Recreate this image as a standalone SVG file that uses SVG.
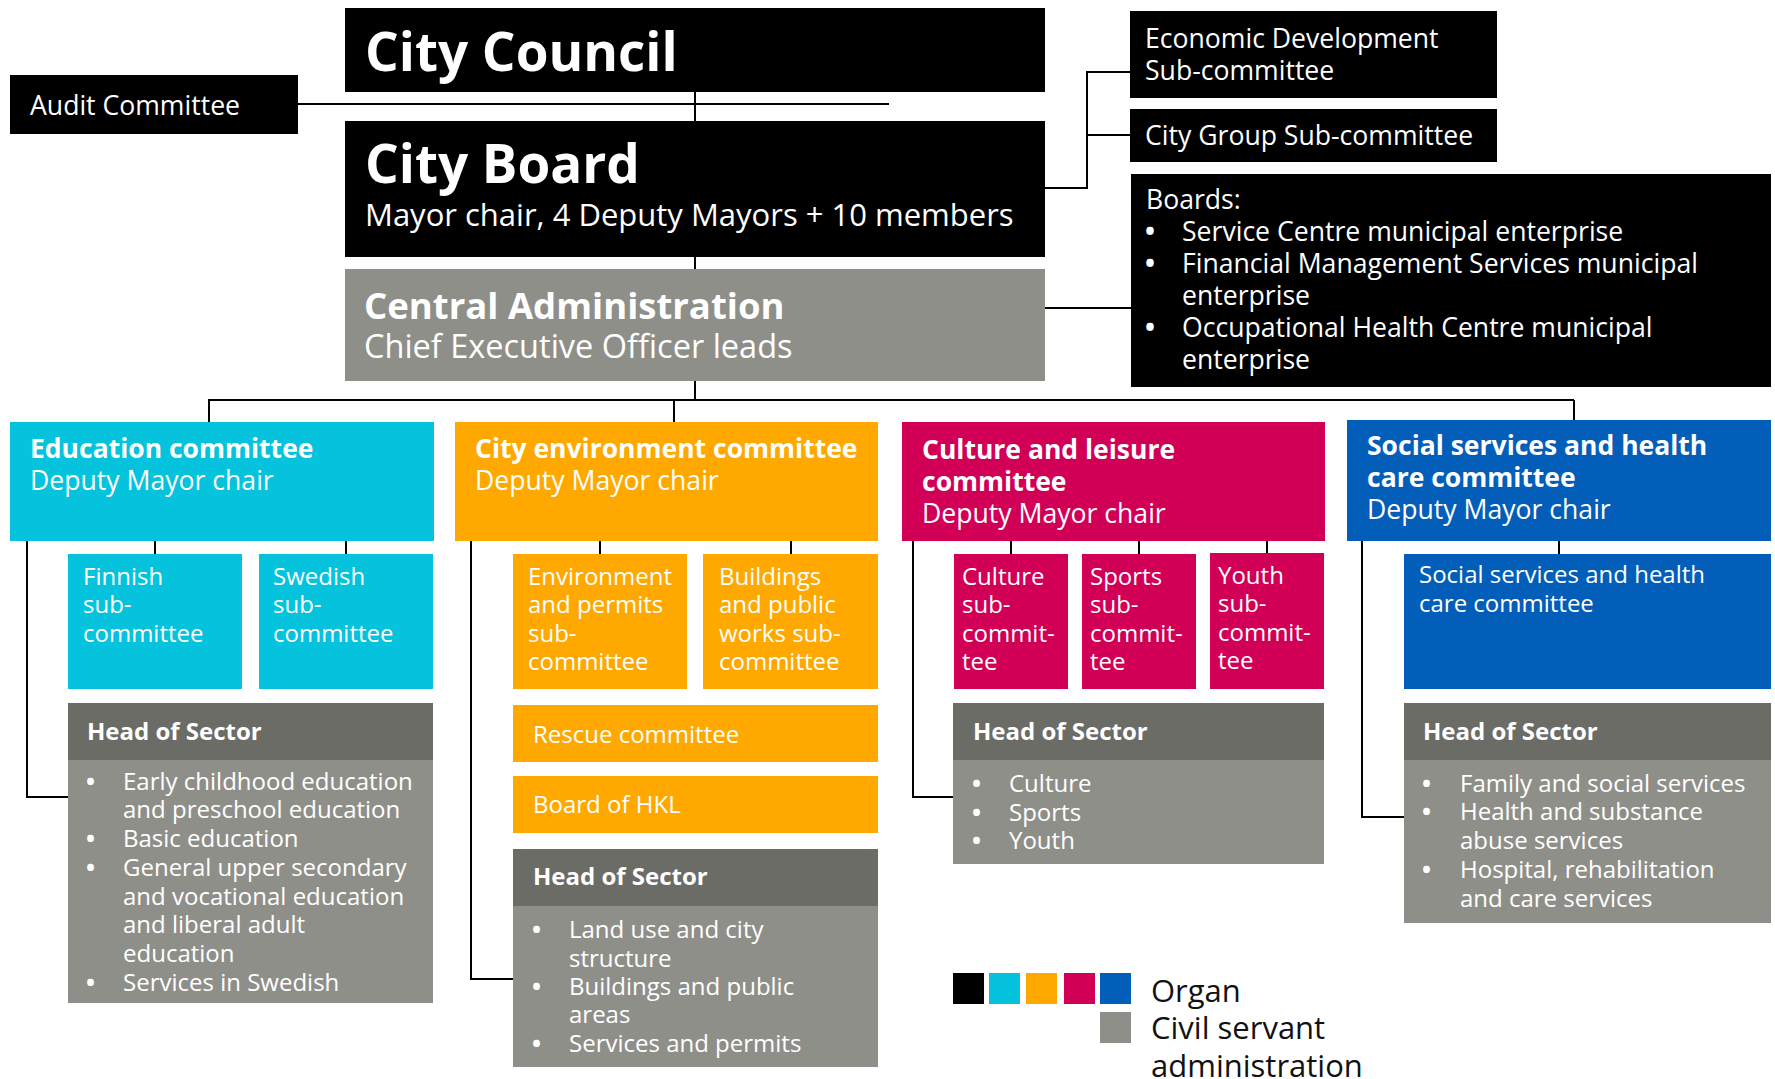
<svg xmlns="http://www.w3.org/2000/svg" width="1775" height="1079" viewBox="0 0 1775 1079">
<style>
text{font-family:"Open Sans","Liberation Sans",sans-serif;fill:#fff}
.b{font-weight:700}
.t26{font-size:26.6px}
.ti{font-size:26.5px;font-weight:700}
.t24{font-size:24px}
.bu{font-weight:700}
.blk{fill:#000}
.cy{fill:#05C2DD}
.or{fill:#FFA900}
.mg{fill:#D10056}
.bl{fill:#025EB8}
.gr{fill:#8F8F8A}
.dg{fill:#6C6C67}
.ln{stroke:#000;stroke-width:2;fill:none}
.lg{fill:#111;font-size:31px}
</style>
<rect width="1775" height="1079" fill="#fff"/>
<g id="connectors" class="ln">
<path d="M298 104H889"/>
<path d="M695 92V121"/>
<path d="M695 257V269"/>
<path d="M695 381V400"/>
<path d="M1045 188H1087V72H1130M1087 135H1130"/>
<path d="M1045 308H1131"/>
<path d="M208 400H1574"/>
<path d="M209 400V422"/>
<path d="M674 400V422"/>
<path d="M1574 400V420"/>
<path d="M155 541V554M346 541V554"/>
<path d="M600 541V554M791 541V554"/>
<path d="M1011 541V554M1139 541V554M1267 541V553"/>
<path d="M1559 541V554"/>
<path d="M27 541V797H68"/>
<path d="M471 541V979H513"/>
<path d="M913 541V797H953"/>
<path d="M1362 541V817H1404"/>
</g>
<g id="city-council">
<rect class="blk" x="345" y="8" width="700" height="84"/>
<text class="b" x="365" y="71" font-size="53">City Council</text>
</g>
<g id="audit-committee">
<rect class="blk" x="10" y="75" width="288" height="59"/>
<text class="t26" x="30" y="115">Audit Committee</text>
</g>
<g id="city-board">
<rect class="blk" x="345" y="121" width="700" height="136"/>
<text class="b" x="365" y="183" font-size="53">City Board</text>
<text x="365" y="226" font-size="31">Mayor chair, 4 Deputy Mayors + 10 members</text>
</g>
<g id="central-administration">
<rect class="gr" x="345" y="269" width="700" height="112"/>
<text class="b" x="364" y="319" font-size="36.5">Central Administration</text>
<text x="364" y="358" font-size="32.5">Chief Executive Officer leads</text>
</g>
<g id="economic-development">
<rect class="blk" x="1130" y="11" width="367" height="87"/>
<text class="t26" x="1145" y="48">Economic Development</text>
<text class="t26" x="1145" y="80">Sub-committee</text>
</g>
<g id="city-group">
<rect class="blk" x="1130" y="109" width="367" height="53"/>
<text class="t26" x="1145" y="145">City Group Sub-committee</text>
</g>
<g id="boards">
<rect class="blk" x="1131" y="174" width="640" height="213"/>
<text class="t26" x="1146" y="209">Boards:</text>
<text class="t26 bu" x="1145" y="241">•</text><text class="t26" x="1182" y="241">Service Centre municipal enterprise</text>
<text class="t26 bu" x="1145" y="273">•</text><text class="t26" x="1182" y="273">Financial Management Services municipal</text>
<text class="t26" x="1182" y="305">enterprise</text>
<text class="t26 bu" x="1145" y="337">•</text><text class="t26" x="1182" y="337">Occupational Health Centre municipal</text>
<text class="t26" x="1182" y="369">enterprise</text>
</g>
<g id="education-committee">
<rect class="cy" x="10" y="422" width="424" height="119"/>
<text class="ti" x="30" y="458">Education committee</text>
<text class="t26" x="30" y="490">Deputy Mayor chair</text>
</g>
<g id="finnish-sub">
<rect class="cy" x="68" y="554" width="174" height="135"/>
<text class="t24" x="83" y="585">Finnish</text>
<text class="t24" x="83" y="613">sub-</text>
<text class="t24" x="83" y="642">committee</text>
</g>
<g id="swedish-sub">
<rect class="cy" x="259" y="554" width="174" height="135"/>
<text class="t24" x="273" y="585">Swedish</text>
<text class="t24" x="273" y="613">sub-</text>
<text class="t24" x="273" y="642">committee</text>
</g>
<g id="education-head">
<rect class="dg" x="68" y="703" width="365" height="57"/>
<rect class="gr" x="68" y="760" width="365" height="243"/>
<text class="t24 b" x="87" y="740">Head of Sector</text>
<text class="t24 bu" x="86" y="790">•</text><text class="t24" x="123" y="790">Early childhood education</text>
<text class="t24" x="123" y="818">and preschool education</text>
<text class="t24 bu" x="86" y="847">•</text><text class="t24" x="123" y="847">Basic education</text>
<text class="t24 bu" x="86" y="876">•</text><text class="t24" x="123" y="876">General upper secondary</text>
<text class="t24" x="123" y="905">and vocational education</text>
<text class="t24" x="123" y="933">and liberal adult</text>
<text class="t24" x="123" y="962">education</text>
<text class="t24 bu" x="86" y="991">•</text><text class="t24" x="123" y="991">Services in Swedish</text>
</g>
<g id="city-environment-committee">
<rect class="or" x="455" y="422" width="423" height="119"/>
<text class="ti" x="475" y="458">City environment committee</text>
<text class="t26" x="475" y="490">Deputy Mayor chair</text>
</g>
<g id="environment-permits-sub">
<rect class="or" x="513" y="554" width="174" height="135"/>
<text class="t24" x="528" y="585">Environment</text>
<text class="t24" x="528" y="613">and permits</text>
<text class="t24" x="528" y="642">sub-</text>
<text class="t24" x="528" y="670">committee</text>
</g>
<g id="buildings-sub">
<rect class="or" x="703" y="554" width="175" height="135"/>
<text class="t24" x="719" y="585">Buildings</text>
<text class="t24" x="719" y="613">and public</text>
<text class="t24" x="719" y="642">works sub-</text>
<text class="t24" x="719" y="670">committee</text>
</g>
<g id="rescue-committee">
<rect class="or" x="513" y="705" width="365" height="57"/>
<text class="t24" x="533" y="743">Rescue committee</text>
</g>
<g id="board-hkl">
<rect class="or" x="513" y="776" width="365" height="57"/>
<text class="t24" x="533" y="813">Board of HKL</text>
</g>
<g id="environment-head">
<rect class="dg" x="513" y="849" width="365" height="57"/>
<rect class="gr" x="513" y="906" width="365" height="161"/>
<text class="t24 b" x="533" y="885">Head of Sector</text>
<text class="t24 bu" x="532" y="938">•</text><text class="t24" x="569" y="938">Land use and city</text>
<text class="t24" x="569" y="967">structure</text>
<text class="t24 bu" x="532" y="995">•</text><text class="t24" x="569" y="995">Buildings and public</text>
<text class="t24" x="569" y="1023">areas</text>
<text class="t24 bu" x="532" y="1052">•</text><text class="t24" x="569" y="1052">Services and permits</text>
</g>
<g id="culture-committee">
<rect class="mg" x="902" y="422" width="423" height="119"/>
<text class="ti" x="922" y="459">Culture and leisure</text>
<text class="ti" x="922" y="491">committee</text>
<text class="t26" x="922" y="523">Deputy Mayor chair</text>
</g>
<g id="culture-sub">
<rect class="mg" x="954" y="554" width="114" height="135"/>
<text class="t24" x="962" y="585">Culture</text>
<text class="t24" x="962" y="613">sub-</text>
<text class="t24" x="962" y="642">commit-</text>
<text class="t24" x="962" y="670">tee</text>
</g>
<g id="sports-sub">
<rect class="mg" x="1082" y="554" width="114" height="135"/>
<text class="t24" x="1090" y="585">Sports</text>
<text class="t24" x="1090" y="613">sub-</text>
<text class="t24" x="1090" y="642">commit-</text>
<text class="t24" x="1090" y="670">tee</text>
</g>
<g id="youth-sub">
<rect class="mg" x="1210" y="553" width="114" height="136"/>
<text class="t24" x="1218" y="584">Youth</text>
<text class="t24" x="1218" y="612">sub-</text>
<text class="t24" x="1218" y="641">commit-</text>
<text class="t24" x="1218" y="669">tee</text>
</g>
<g id="culture-head">
<rect class="dg" x="953" y="703" width="371" height="57"/>
<rect class="gr" x="953" y="760" width="371" height="104"/>
<text class="t24 b" x="973" y="740">Head of Sector</text>
<text class="t24 bu" x="972" y="792">•</text><text class="t24" x="1009" y="792">Culture</text>
<text class="t24 bu" x="972" y="821">•</text><text class="t24" x="1009" y="821">Sports</text>
<text class="t24 bu" x="972" y="849">•</text><text class="t24" x="1009" y="849">Youth</text>
</g>
<g id="social-committee">
<rect class="bl" x="1347" y="420" width="424" height="121"/>
<text class="ti" x="1367" y="455">Social services and health</text>
<text class="ti" x="1367" y="487">care committee</text>
<text class="t26" x="1367" y="519">Deputy Mayor chair</text>
</g>
<g id="social-sub">
<rect class="bl" x="1404" y="554" width="367" height="135"/>
<text class="t24" x="1419" y="583">Social services and health</text>
<text class="t24" x="1419" y="612">care committee</text>
</g>
<g id="social-head">
<rect class="dg" x="1404" y="703" width="367" height="57"/>
<rect class="gr" x="1404" y="760" width="367" height="163"/>
<text class="t24 b" x="1423" y="740">Head of Sector</text>
<text class="t24 bu" x="1422" y="792">•</text><text class="t24" x="1460" y="792">Family and social services</text>
<text class="t24 bu" x="1422" y="820">•</text><text class="t24" x="1460" y="820">Health and substance</text>
<text class="t24" x="1460" y="849">abuse services</text>
<text class="t24 bu" x="1422" y="878">•</text><text class="t24" x="1460" y="878">Hospital, rehabilitation</text>
<text class="t24" x="1460" y="907">and care services</text>
</g>
<g id="legend">
<rect class="blk" x="953" y="973" width="31" height="31"/>
<rect class="cy" x="989" y="973" width="31" height="31"/>
<rect class="or" x="1026" y="973" width="31" height="31"/>
<rect class="mg" x="1064" y="973" width="31" height="31"/>
<rect class="bl" x="1100" y="973" width="31" height="31"/>
<rect class="gr" x="1100" y="1012" width="31" height="31"/>
<text class="lg" x="1151" y="1002">Organ</text>
<text class="lg" x="1151" y="1039">Civil servant</text>
<text class="lg" x="1151" y="1077">administration</text>
</g>
</svg>
